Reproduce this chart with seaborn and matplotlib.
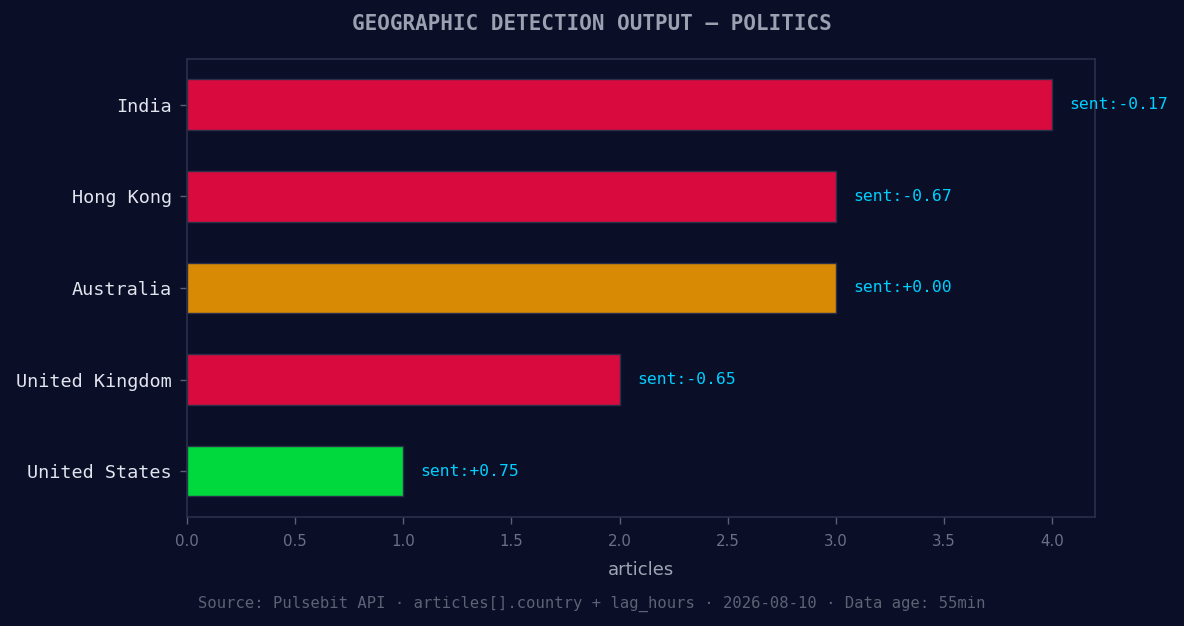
import matplotlib
matplotlib.use("Agg")
import matplotlib.pyplot as plt
import seaborn as sns
import pandas as pd

countries = ["India", "Hong Kong", "Australia", "United Kingdom", "United States"]
articles = [4, 3, 3, 2, 1]
sentiment = [-0.17, -0.67, 0.00, -0.65, 0.75]
bar_colors = ["#d90a3e", "#d90a3e", "#d98a04", "#d90a3e", "#00d93e"]

BG = "#0a0e27"
EDGE = "#2a2f4a"

sns.set_theme(style="dark")
plt.rcParams["font.family"] = ["DejaVu Sans"]

df = pd.DataFrame({"country": countries, "articles": articles})

fig = plt.figure(figsize=(11.84, 6.26), dpi=100, facecolor=BG)
ax = fig.add_axes([0.158, 0.174, 0.767, 0.732])
ax.set_facecolor(BG)

sns.barplot(data=df, y="country", x="articles", hue="country",
            palette=bar_colors, orient="h", width=0.55, legend=False,
            edgecolor=EDGE, linewidth=1.0, ax=ax, saturation=1)

for i, (v, s) in enumerate(zip(articles, sentiment)):
    ax.text(v + 0.08, i, f"sent:{s:+.2f}", va="center", ha="left",
            color="#00cfff", fontsize=11.8, family="DejaVu Sans Mono")

ax.set_xlim(0, 4.2)
ax.set_ylim(4.5, -0.5)
ax.set_ylabel("")
ax.set_xlabel("articles", color="#a0a4b4", fontsize=13, labelpad=9)
ax.grid(False)

for sp in ax.spines.values():
    sp.set_visible(True)
    sp.set_color(EDGE)
    sp.set_linewidth(1.2)

ax.tick_params(axis="x", colors="#6b7085", labelsize=10.8, length=5,
               width=1, bottom=True, pad=7, color="#5a5f75")
ax.tick_params(axis="y", colors="#5a5f75", labelsize=13.3, length=5,
               width=1, left=True, pad=6)
for lab in ax.get_yticklabels():
    lab.set_family("DejaVu Sans Mono")
    lab.set_color("#e2e4ee")
for lab in ax.get_xticklabels():
    lab.set_color("#6b7085")

fig.suptitle("GEOGRAPHIC DETECTION OUTPUT — POLITICS", x=0.5, y=0.977,
             color="#9ca0b0", fontsize=15, fontweight="bold",
             family="DejaVu Sans Mono")

fig.text(0.5, 0.036,
         "Source: Pulsebit API · articles[].country + lag_hours · 2026-08-10 · Data age: 55min",
         ha="center", va="center", color="#5d6275", fontsize=11.2,
         family="DejaVu Sans Mono")

fig.savefig("out.png", dpi=100, facecolor=BG)
